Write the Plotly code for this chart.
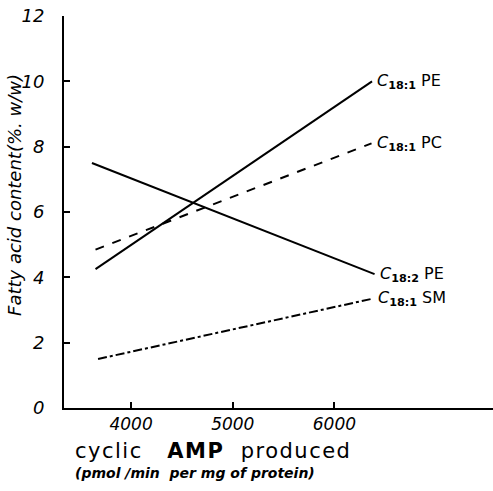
import plotly.graph_objects as go

# Data
pe181_x = [3650, 6370]
pe181_y = [4.25, 10.0]
pc181_x = [3650, 6365]
pc181_y = [4.85, 8.1]
pe182_x = [3615, 6395]
pe182_y = [7.5, 4.1]
sm181_x = [3675, 6380]
sm181_y = [1.5, 3.35]

labels = ["<i>C</i><sub><b>18:1</b></sub> PE", "<i>C</i><sub><b>18:1</b></sub> PC",
          "<i>C</i><sub><b>18:2</b></sub> PE", "<i>C</i><sub><b>18:1</b></sub> SM"]
y_ticks = [0, 2, 4, 6, 8, 10, 12]
x_ticks = [4000, 5000, 6000]

series = [
    (pe181_x, pe181_y, "solid"),
    (pc181_x, pc181_y, "dash"),
    (pe182_x, pe182_y, "solid"),
    (sm181_x, sm181_y, "dashdot"),
]

fig = go.Figure()
for xs, ys, dash in series:
    fig.add_trace(go.Scatter(x=xs, y=ys, mode="lines",
                             line=dict(color="black", width=2, dash=dash),
                             showlegend=False, hoverinfo="skip"))

font_main = "DejaVu Sans"
for (xs, ys, _), lab in zip(series, labels):
    fig.add_annotation(x=xs[-1], y=ys[-1], text=lab, showarrow=False,
                       xanchor="left", yanchor="middle", xshift=3,
                       font=dict(family=font_main, size=16, color="black"))

fig.add_annotation(xref="paper", yref="paper", x=0.02, y=-0.075,
                   text="<span style='letter-spacing:1.5px'>cyclic   <b>AMP</b>  produced</span>",
                   showarrow=False, xanchor="left", yanchor="top",
                   font=dict(family=font_main, size=21, color="black"))
fig.add_annotation(xref="paper", yref="paper", x=0.02, y=-0.14,
                   text="<b>(pmol /min  per mg of protein)</b>", showarrow=False,
                   xanchor="left", yanchor="top",
                   font=dict(family=font_main, size=14, color="black", style="italic"))
fig.add_annotation(xref="paper", yref="paper", x=-0.117, y=0.543,
                   text="Fatty acid content(%. w/w)", showarrow=False, textangle=-90,
                   xanchor="center", yanchor="middle",
                   font=dict(family=font_main, size=18, color="black", style="italic"))

fig.update_xaxes(range=[3340, 7560], tickvals=x_ticks, ticks="inside", ticklen=6,
                 tickwidth=2, tickcolor="black", showline=True, linecolor="black",
                 linewidth=2, showgrid=False, zeroline=False,
                 tickfont=dict(family=font_main, size=17, color="black", style="italic"))
fig.update_yaxes(range=[0, 12], tickvals=y_ticks, ticks="inside", ticklen=6,
                 tickwidth=2, tickcolor="black", showline=True, linecolor="black",
                 linewidth=2, showgrid=False, zeroline=False, ticklabelstandoff=14,
                 tickfont=dict(family=font_main, size=18, color="black", style="italic"))

fig.update_layout(width=493, height=491, margin=dict(l=64, r=0, t=16, b=83),
                  plot_bgcolor="white", paper_bgcolor="white")

fig.write_html("out.html")
